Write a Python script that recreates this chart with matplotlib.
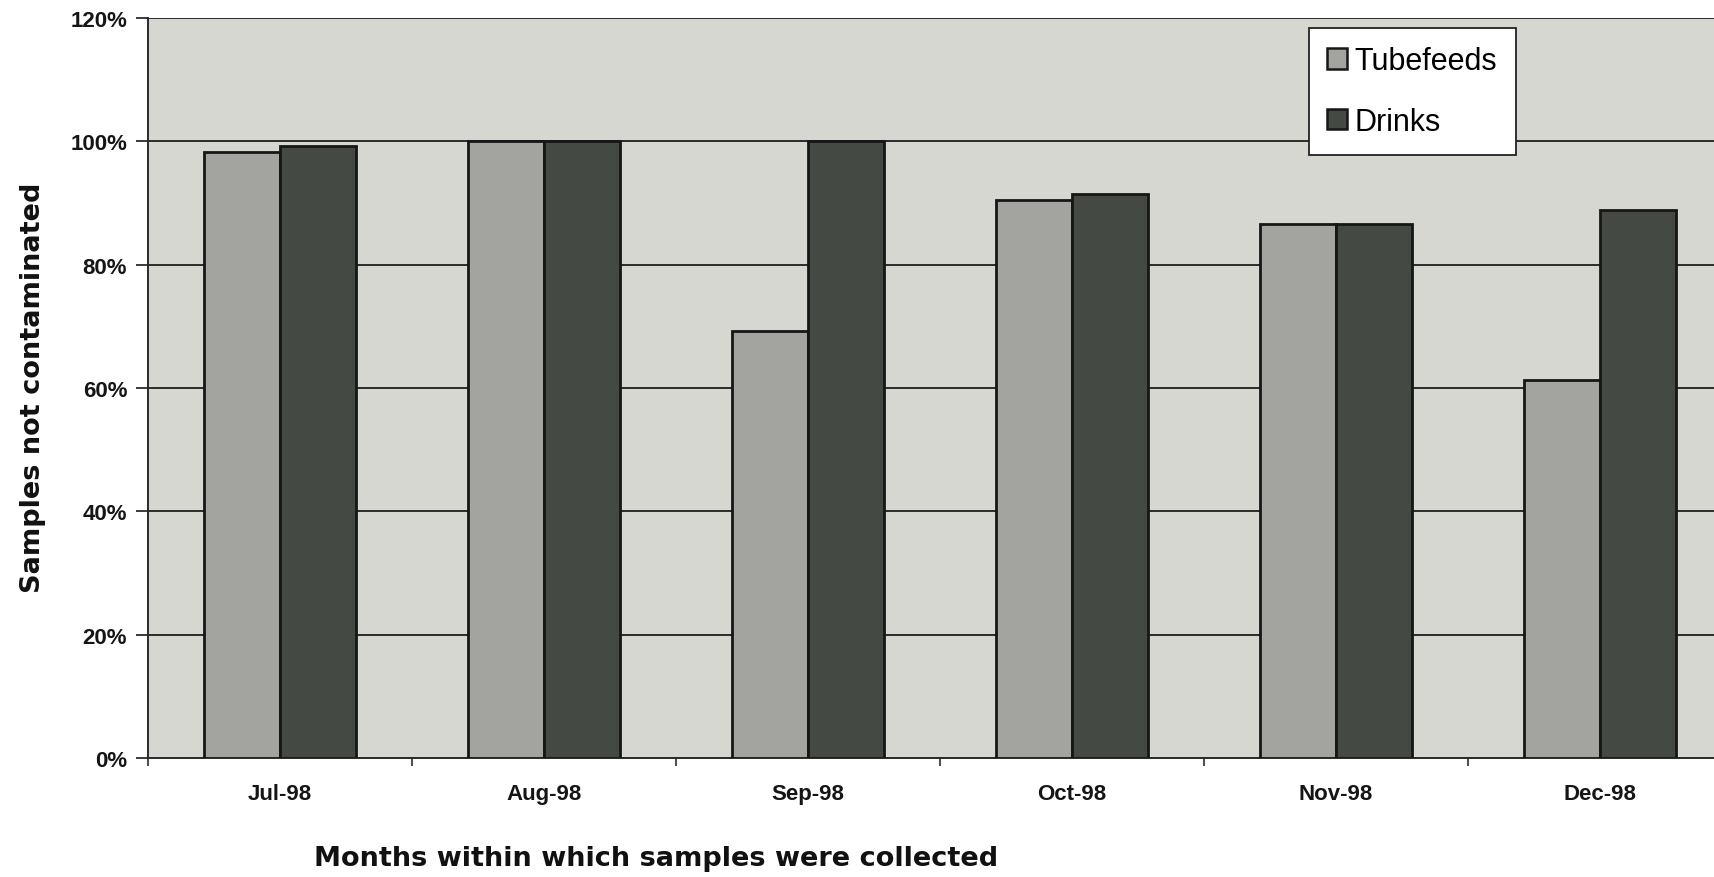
import matplotlib
matplotlib.use("Agg")
import matplotlib.pyplot as plt
from matplotlib.patches import Patch
from matplotlib.ticker import FuncFormatter, MultipleLocator
import numpy as np

months = ["Jul-98", "Aug-98", "Sep-98", "Oct-98", "Nov-98", "Dec-98"]
tubefeeds = [98.3, 100.0, 69.3, 90.5, 86.6, 61.3]
drinks = [99.3, 100.0, 100.0, 91.4, 86.6, 88.8]
series_names = ["Tubefeeds", "Drinks"]

TUBE_COL = "#a3a4a0"
DRINK_COL = "#454944"
PLOT_BG = "#d7d7d2"
LINE_COL = "#2b2b2b"
EDGE_COL = "#161616"

fig = plt.figure(figsize=(17.14, 8.78), dpi=100)
fig.patch.set_facecolor("white")

# plot area runs past the right edge of the figure
ax = fig.add_axes([148 / 1714, 1 - 759 / 878, 1584 / 1714, 740 / 878])
ax.set_facecolor(PLOT_BG)

x = np.arange(len(months))
w = 0.288
ax.bar(x - w / 2, tubefeeds, w, color=TUBE_COL, edgecolor=EDGE_COL, linewidth=2.0, zorder=3)
ax.bar(x + w / 2, drinks, w, color=DRINK_COL, edgecolor=EDGE_COL, linewidth=2.0, zorder=3)

ax.set_xlim(-0.5, len(months) - 0.5)
ax.set_ylim(0, 120)
ax.yaxis.set_major_locator(MultipleLocator(20))
ax.yaxis.set_major_formatter(FuncFormatter(lambda v, p: "%d%%" % v))
ax.grid(axis="y", color=LINE_COL, linewidth=1.4, zorder=1)

ax.set_xticks(x)
ax.set_xticklabels(months)
ax.set_xticks(np.arange(len(months) + 1) - 0.5, minor=True)
ax.tick_params(axis="x", which="major", length=0, pad=18, labelsize=16)
ax.tick_params(axis="x", which="minor", length=6, color=LINE_COL, width=1.2)
ax.tick_params(axis="y", length=9, width=1.3, color=LINE_COL, labelsize=16, pad=6)
for lab in ax.get_xticklabels() + ax.get_yticklabels():
    lab.set_family("Liberation Sans")
    lab.set_fontweight("bold")
    lab.set_color("#151515")

for side in ("top", "right"):
    ax.spines[side].set_visible(False)
for side in ("left", "bottom"):
    ax.spines[side].set_color(LINE_COL)
    ax.spines[side].set_linewidth(1.4)

fig.text(656 / 1714, 1 - 859 / 878, "Months within which samples were collected",
         ha="center", va="center", fontsize=19.5, fontweight="bold", family="DejaVu Sans",
         color="#111111")
fig.text(33 / 1714, 1 - 388 / 878, "Samples not contaminated", rotation=90,
         ha="center", va="center", fontsize=19.5, fontweight="bold", family="DejaVu Sans",
         color="#111111")

handles = [Patch(facecolor=TUBE_COL, edgecolor=EDGE_COL, linewidth=1.8),
           Patch(facecolor=DRINK_COL, edgecolor=EDGE_COL, linewidth=1.8)]
leg = fig.legend(handles, series_names, loc="upper left",
                 bbox_to_anchor=(1309 / 1714, 1 - 29 / 878), borderaxespad=0,
                 fancybox=False, framealpha=1, edgecolor="#222222",
                 prop={"family": "Liberation Sans", "size": 22},
                 handlelength=0.65, handleheight=0.65, handletextpad=0.25,
                 labelspacing=1.0, borderpad=0.6)
leg.get_frame().set_linewidth(1.3)

fig.savefig("out.png", dpi=100, facecolor="white")
